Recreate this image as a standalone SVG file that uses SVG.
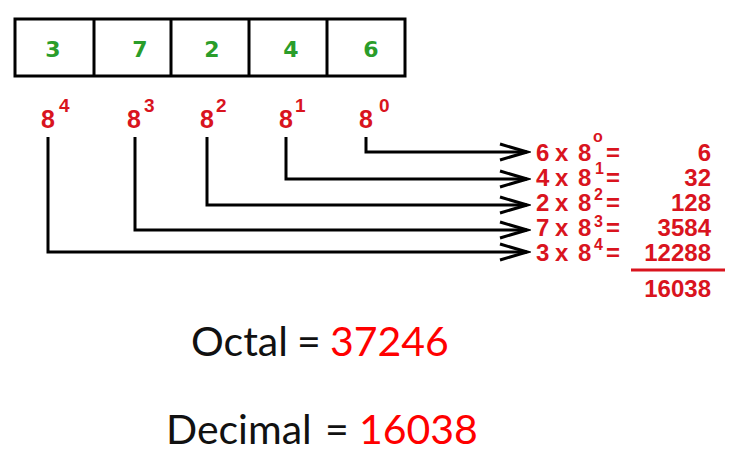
<svg xmlns="http://www.w3.org/2000/svg" width="741" height="465" viewBox="0 0 741 465">
<style>
.digit{font-family:"DejaVu Sans",Verdana,sans-serif;font-weight:bold;font-size:22px;fill:#2a9d2a;text-anchor:middle}
.pow{font-family:"Liberation Sans",Arial,sans-serif;font-weight:bold;font-size:25px;fill:#d9141e}
.sup{font-family:"Liberation Sans",Arial,sans-serif;font-weight:bold;font-size:19px;fill:#d9141e}
.calc{font-family:"Liberation Sans",Arial,sans-serif;font-weight:bold;font-size:24px;fill:#d9141e}
.csup{font-family:"Liberation Sans",Arial,sans-serif;font-weight:bold;font-size:16px;fill:#d9141e}
.val{font-family:"Liberation Sans",Arial,sans-serif;font-weight:bold;font-size:24px;fill:#d9141e;text-anchor:end}
.big{font-family:Lato,"Open Sans",sans-serif;font-size:41px;fill:#111}
.bigr{fill:#ff0000}
.conn{fill:none;stroke:#000;stroke-width:3}
</style>
<defs>
<marker id="arr" markerUnits="userSpaceOnUse" markerWidth="34" markerHeight="22" refX="30" refY="10" orient="auto">
<path d="M3,2 L30,10 L3,18" fill="none" stroke="#000" stroke-width="3"/>
</marker>
</defs>
<rect width="741" height="465" fill="#fff"/>
<g id="octal-box">
<rect x="15" y="19" width="390" height="57" fill="#fff" stroke="#000" stroke-width="3"/>
<path d="M94,19V76M171,19V76M249,19V76M327,19V76" stroke="#000" stroke-width="3"/>
<text class="digit" x="53" y="57">3</text>
<text class="digit" x="140" y="57">7</text>
<text class="digit" x="212" y="57">2</text>
<text class="digit" x="291" y="57">4</text>
<text class="digit" x="371" y="57">6</text>
</g>
<g id="p4"><text class="pow" x="41" y="128">8</text><text class="sup" x="59" y="112">4</text></g>
<g id="p3"><text class="pow" x="127" y="128">8</text><text class="sup" x="144" y="112">3</text></g>
<g id="p2"><text class="pow" x="200" y="128">8</text><text class="sup" x="216" y="112">2</text></g>
<g id="p1"><text class="pow" x="279" y="128">8</text><text class="sup" x="295" y="112">1</text></g>
<g id="p0"><text class="pow" x="359" y="128">8</text><text class="sup" x="379" y="112">0</text></g>
<g id="connectors">
<path class="conn" d="M366,137V152H527" marker-end="url(#arr)"/>
<path class="conn" d="M286,137V179H527" marker-end="url(#arr)"/>
<path class="conn" d="M207,137V205H527" marker-end="url(#arr)"/>
<path class="conn" d="M135,137V230H527" marker-end="url(#arr)"/>
<path class="conn" d="M48,137V252H527" marker-end="url(#arr)"/>
</g>
<g id="calc">
<text class="calc" y="161"><tspan x="536">6</tspan><tspan x="555">x</tspan><tspan x="578">8</tspan><tspan x="606">=</tspan></text>
<text class="csup" x="593" y="142">o</text>
<text class="calc" y="186"><tspan x="536">4</tspan><tspan x="555">x</tspan><tspan x="578">8</tspan><tspan x="606">=</tspan></text>
<text class="csup" x="595" y="174">1</text>
<text class="calc" y="211"><tspan x="536">2</tspan><tspan x="555">x</tspan><tspan x="578">8</tspan><tspan x="606">=</tspan></text>
<text class="csup" x="594" y="200">2</text>
<text class="calc" y="236"><tspan x="536">7</tspan><tspan x="555">x</tspan><tspan x="578">8</tspan><tspan x="606">=</tspan></text>
<text class="csup" x="594" y="227">3</text>
<text class="calc" y="261"><tspan x="536">3</tspan><tspan x="555">x</tspan><tspan x="578">8</tspan><tspan x="606">=</tspan></text>
<text class="csup" x="594" y="250">4</text>
<text class="val" x="711" y="161">6</text>
<text class="val" x="711" y="186">32</text>
<text class="val" x="711" y="211">128</text>
<text class="val" x="711" y="236">3584</text>
<text class="val" x="711" y="261">12288</text>
<path d="M631,270H725" stroke="#d9141e" stroke-width="3"/>
<text class="val" x="711" y="297">16038</text>
</g>
<g id="result">
<text class="big" y="356"><tspan x="191">Octal</tspan><tspan x="297">=</tspan><tspan class="bigr" x="330">37246</tspan></text>
<text class="big" y="444"><tspan x="166">Decimal</tspan><tspan x="325">=</tspan><tspan class="bigr" x="359">16038</tspan></text>
</g>
</svg>
